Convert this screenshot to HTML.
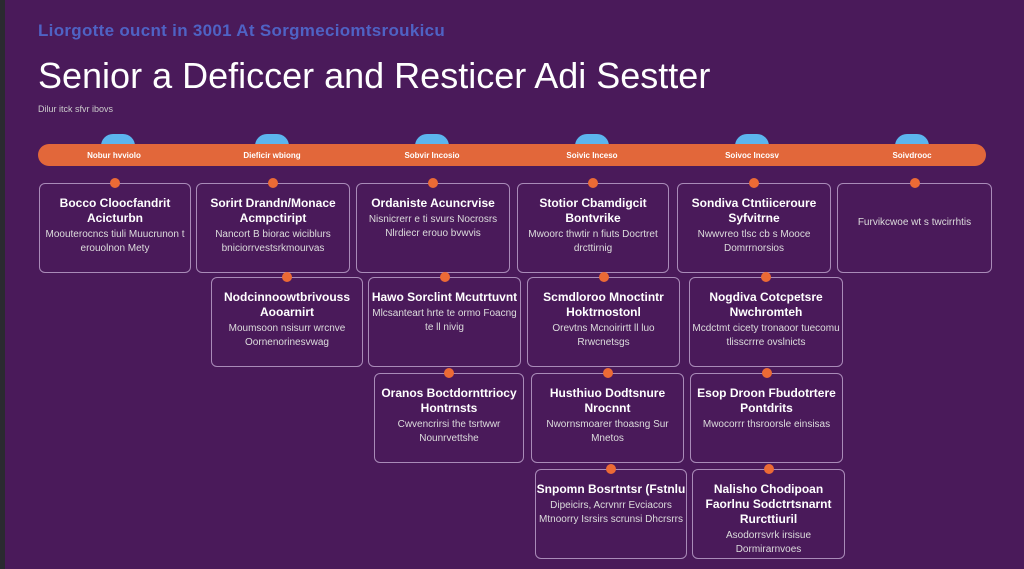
<!DOCTYPE html><html><head><style>
body{margin:0;width:1024px;height:569px;background:#4a1a5a;position:relative;overflow:hidden;font-family:"Liberation Sans",sans-serif;color:#eee}
.edge{position:absolute;left:0;top:0;width:5px;height:569px;background:#2a2a30}
.b{position:absolute;border:1.5px solid #a98bb8;border-radius:6px;box-sizing:border-box;text-align:center;padding-top:12px;font-size:10px;line-height:14px;color:#ddd}
.b h{display:block;font-weight:bold;font-size:12px;line-height:15px;color:#fff;margin-bottom:2px}
.b:before{content:"";position:absolute;left:50%;top:-6px;margin-left:-5px;width:10px;height:10px;border-radius:50%;background:#ec6a35}
.bar{position:absolute;left:38px;top:144px;width:948px;height:22px;background:#e2673a;border-radius:11px}
.lab{position:absolute;top:151px;font-size:8px;font-weight:bold;color:#fff;width:100px;text-align:center}
.cl{position:absolute;top:134px;width:34px;height:12px;background:#5cb5ee;border-radius:17px 17px 0 0}
</style></head><body><div class="edge"></div>
<div style="position:absolute;left:38px;top:21px;font-size:17px;font-weight:bold;color:#4f62c4;letter-spacing:0.3px">Liorgotte oucnt in 3001 At Sorgmeciomtsroukicu</div>
<div style="position:absolute;left:38px;top:55px;font-size:36px;color:#fff">Senior a Deficcer and Resticer Adi Sestter</div>
<div style="position:absolute;left:38px;top:104px;font-size:9px;color:#ccc">Dilur itck sfvr ibovs</div>
<div class="cl" style="left:101px"></div><div class="cl" style="left:255px"></div><div class="cl" style="left:415px"></div><div class="cl" style="left:575px"></div><div class="cl" style="left:735px"></div><div class="cl" style="left:895px"></div>
<div class="bar"></div>
<div class="lab" style="left:64px">Nobur hvviolo</div><div class="lab" style="left:222px">Dieficir wbiong</div><div class="lab" style="left:382px">Sobvir Incosio</div><div class="lab" style="left:542px">Soivic Inceso</div><div class="lab" style="left:702px">Soivoc Incosv</div><div class="lab" style="left:862px">Soivdrooc</div>
<div class="b" style="left:39px;top:183px;width:152px;height:90px"><h>Bocco Cloocfandrit Acicturbn</h>Moouterocncs tiuli Muucrunon t erouolnon Mety</div>
<div class="b" style="left:196px;top:183px;width:154px;height:90px"><h>Sorirt Drandn/Monace Acmpctiript</h>Nancort B biorac wiciblurs bniciorrvestsrkmourvas</div>
<div class="b" style="left:356px;top:183px;width:154px;height:90px"><h>Ordaniste Acuncrvise</h>Nisnicrerr e ti svurs Nocrosrs Nlrdiecr erouo bvwvis</div>
<div class="b" style="left:517px;top:183px;width:152px;height:90px"><h>Stotior Cbamdigcit Bontvrike</h>Mwoorc thwtir n fiuts Docrtret drcttirnig</div>
<div class="b" style="left:677px;top:183px;width:154px;height:90px"><h>Sondiva Ctntiiceroure Syfvitrne</h>Nwwvreo tlsc cb s Mooce Domrrnorsios</div>
<div class="b" style="left:837px;top:183px;width:155px;height:90px;padding-top:32px">Furvikcwoe wt s twcirrhtis</div>
<div class="b" style="left:211px;top:277px;width:152px;height:90px"><h>Nodcinnoowtbrivouss Aooarnirt</h>Moumsoon nsisurr wrcnve Oornenorinesvwag</div>
<div class="b" style="left:368px;top:277px;width:153px;height:90px"><h>Hawo Sorclint Mcutrtuvnt</h>Mlcsanteart hrte te ormo Foacng te ll nivig</div>
<div class="b" style="left:527px;top:277px;width:153px;height:90px"><h>Scmdloroo Mnoctintr Hoktrnostonl</h>Orevtns Mcnoirirtt ll luo Rrwcnetsgs</div>
<div class="b" style="left:689px;top:277px;width:154px;height:90px"><h>Nogdiva Cotcpetsre Nwchromteh</h>Mcdctmt cicety tronaoor tuecomu tlisscrrre ovslnicts</div>
<div class="b" style="left:374px;top:373px;width:150px;height:90px"><h>Oranos Boctdornttriocy Hontrnsts</h>Cwvencrirsi the tsrtwwr Nounrvettshe</div>
<div class="b" style="left:531px;top:373px;width:153px;height:90px"><h>Husthiuo Dodtsnure Nrocnnt</h>Nwornsmoarer thoasng Sur Mnetos</div>
<div class="b" style="left:690px;top:373px;width:153px;height:90px"><h>Esop Droon Fbudotrtere Pontdrits</h>Mwocorrr thsroorsle einsisas</div>
<div class="b" style="left:535px;top:469px;width:152px;height:90px"><h>Snpomn Bosrtntsr (Fstnlu</h>Dipeicirs, Acrvnrr Evciacors Mtnoorry Isrsirs scrunsi Dhcrsrrs</div>
<div class="b" style="left:692px;top:469px;width:153px;height:90px"><h>Nalisho Chodipoan Faorlnu Sodctrtsnarnt Rurcttiuril</h>Asodorrsvrk irsisue Dormirarnvoes</div>
</body></html>
